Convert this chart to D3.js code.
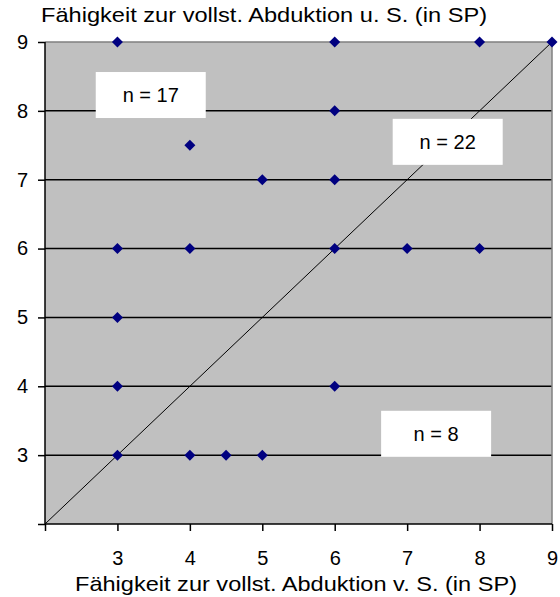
<!DOCTYPE html>
<html>
<head>
<meta charset="utf-8">
<script src="https://cdn.jsdelivr.net/npm/d3@7"></script>
<style>
  html, body { margin: 0; padding: 0; background: #fff; }
  svg { display: block; }
  text { font-family: Arial, "Liberation Sans", sans-serif; fill: #000; }
</style>
</head>
<body>
<svg id="chart" width="560" height="597"></svg>
<script>
// Abduction ability before (x) and after (y) surgery, in SP
const pointsX = [3, 6, 8, 9, 6, 4, 5, 6, 3, 4, 6, 7, 8, 3, 3, 6, 3, 4, 4.5, 5];
const pointsY = [9, 9, 9, 9, 8, 7.5, 7, 7, 6, 6, 6, 6, 6, 5, 4, 4, 3, 3, 3, 3];
const tickValues = [2, 3, 4, 5, 6, 7, 8, 9];
const tickLabels = ["", "3", "4", "5", "6", "7", "8", "9"];
const gridValues = [3, 4, 5, 6, 7, 8];
const diagonal = [2, 9];
const groupLabels = ["n = 17", "n = 22", "n = 8"];
const groupAnchorX = [3.46, 7.56, 7.40];   // centre of each label box, data units
const groupAnchorY = [8.23, 7.55, 3.31];
const xTitle = "Fähigkeit zur vollst. Abduktion v. S. (in SP)";
const yTitle = "Fähigkeit zur vollst. Abduktion u. S. (in SP)";

const svg = d3.select("#chart");
const plotLeft = 45, plotRight = 552, plotTop = 42, plotBottom = 524;

const x = d3.scaleLinear().domain([2, 9]).range([plotLeft, plotRight]);
const y = d3.scaleLinear().domain([2, 9]).range([plotBottom, plotTop]);

// plot area
svg.append("rect")
  .attr("x", plotLeft).attr("y", plotTop)
  .attr("width", plotRight - plotLeft).attr("height", plotBottom - plotTop)
  .attr("fill", "#c0c0c0");

// horizontal grid lines
svg.append("g").selectAll("line").data(gridValues).join("line")
  .attr("x1", plotLeft).attr("x2", plotRight)
  .attr("y1", d => y(d)).attr("y2", d => y(d))
  .attr("stroke", "#000").attr("stroke-width", 1.5);

// top and right frame
svg.append("path")
  .attr("d", `M${plotLeft},${plotTop}H${plotRight}V${plotBottom}`)
  .attr("fill", "none").attr("stroke", "#808080").attr("stroke-width", 1.5);

// diagonal reference line y = x
svg.append("line")
  .attr("x1", x(diagonal[0])).attr("y1", y(diagonal[0]))
  .attr("x2", x(diagonal[1])).attr("y2", y(diagonal[1]))
  .attr("stroke", "#000").attr("stroke-width", 1);

// group count labels
const boxW = 110, boxH = 46;
const groups = svg.append("g").selectAll("g").data(groupLabels).join("g")
  .attr("transform", (d, i) => `translate(${x(groupAnchorX[i])},${y(groupAnchorY[i])})`);
groups.append("rect")
  .attr("x", -boxW / 2).attr("y", -boxH / 2)
  .attr("width", boxW).attr("height", boxH)
  .attr("fill", "#fff");
groups.append("text")
  .attr("text-anchor", "middle").attr("dy", "0.36em")
  .attr("font-size", 20)
  .text(d => d);

// axes
const xAxis = d3.axisBottom(x).tickValues(tickValues)
  .tickFormat((d, i) => tickLabels[i]).tickSize(7).tickPadding(20);
const gx = svg.append("g").attr("transform", `translate(0,${plotBottom})`).call(xAxis);
gx.select(".domain").attr("stroke", "#000").attr("stroke-width", 1.5).attr("d", `M${plotLeft},0H${plotRight}`);
gx.selectAll(".tick line").attr("stroke", "#000").attr("stroke-width", 1.5);
gx.selectAll(".tick text").attr("font-size", 20).attr("font-family", "Arial, 'Liberation Sans', sans-serif").attr("fill", "#000");

const yAxis = d3.axisLeft(y).tickValues(tickValues)
  .tickFormat((d, i) => tickLabels[i]).tickSize(7).tickPadding(10);
const gy = svg.append("g").attr("transform", `translate(${plotLeft},0)`).call(yAxis);
gy.select(".domain").attr("stroke", "#000").attr("stroke-width", 1.5).attr("d", `M0,${plotTop}V${plotBottom}`);
gy.selectAll(".tick line").attr("stroke", "#000").attr("stroke-width", 1.5);
gy.selectAll(".tick text").attr("font-size", 20).attr("font-family", "Arial, 'Liberation Sans', sans-serif").attr("fill", "#000");

// data points as navy diamonds
const diamond = "M0,-5.5L5.5,0L0,5.5L-5.5,0Z";
svg.append("g").selectAll("path").data(pointsX.map((v, i) => [v, pointsY[i]])).join("path")
  .attr("d", diamond)
  .attr("transform", d => `translate(${x(d[0])},${y(d[1])})`)
  .attr("fill", "#000080");

// axis titles
svg.append("text")
  .attr("x", 41).attr("y", 22)
  .attr("font-size", 21)
  .attr("textLength", 446).attr("lengthAdjust", "spacingAndGlyphs")
  .text(yTitle);
svg.append("text")
  .attr("x", 75).attr("y", 591)
  .attr("font-size", 21)
  .attr("textLength", 442).attr("lengthAdjust", "spacingAndGlyphs")
  .text(xTitle);
</script>
</body>
</html>
